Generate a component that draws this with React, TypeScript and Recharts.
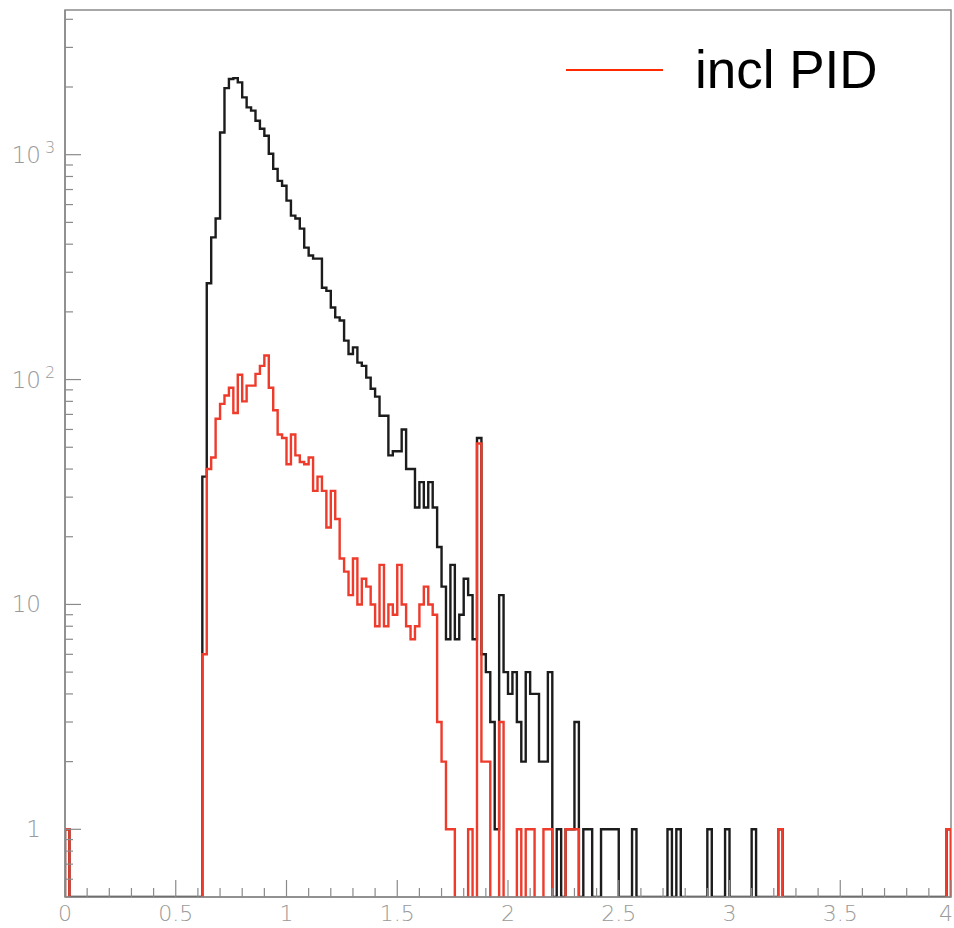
import React from 'react';
import { LineChart, Line, XAxis, YAxis, ReferenceArea, Legend } from 'recharts';

const BIN_WIDTH = 0.02;
const N_BINS = 200; // 0 .. 4
const FIRST_FILLED = 0.62; // lower edge of the first populated bin
const FLOOR = 0.5; // bottom of the log axis, empty bins sit here
const Y_TOP = 4400;

// all candidates, entries per bin starting at 0.62
const allCounts = [
  37, 268, 429, 520, 1256, 1978, 2170, 2190, 2096, 1798,
  1624, 1570, 1415, 1305, 1215, 1009, 865, 765, 728, 625,
  536, 520, 469, 386, 356, 345, 345, 256, 248, 209,
  189, 183, 149, 130, 139, 119, 115, 102, 91, 84,
  69, 69, 46, 48, 48, 60, 40, 40, 27, 35,
  27, 35, 27, 18, 12, 7, 15, 7, 9, 13,
  11, 7, 55, 6, 5, 3, 1, 11, 5, 4,
  5, 3, 2, 5, 4, 4, 2, 2, 5, 0,
  1, 0, 1, 1, 3, 0, 1, 1, 0, 0,
  1, 1, 1, 1, 0, 0, 0, 1, 0, 0,
  0, 0, 0, 0, 0, 1, 0, 1, 0, 0,
  0, 0, 0, 0, 1, 0, 0, 0, 1, 0,
  0, 0, 0, 0, 1,
];

// incl PID, entries per bin starting at 0.62
const pidCounts = [
  6, 40, 45, 67, 78, 85, 92, 71, 105, 80,
  94, 94, 106, 115, 128, 92, 73, 57, 55, 42,
  57, 46, 43, 42, 45, 32, 37, 32, 22, 32,
  24, 16, 14, 11, 16, 10, 13, 12, 10, 8,
  15, 8, 10, 9, 15, 10, 8, 7, 8, 10,
  12, 10, 9, 3, 2, 1, 1, 0, 0, 0,
  1, 0, 52, 2, 2, 0, 0, 3, 0, 0,
  0, 1, 0, 1, 1, 0, 0, 1, 1, 0,
  0, 0, 1, 1, 1,
];

// lone PID entries away from the bulk (bin lower edges), one each
const pidSingles = [0, 3.22, 3.98];

const xMajorTicks = [0, 0.5, 1, 1.5, 2, 2.5, 3, 3.5, 4];
const xTickLabels = ['0', '0.5', '1', '1.5', '2', '2.5', '3', '3.5', '4'];
const yMajorTicks = [1, 10, 100, 1000];
const yTickLabels = [['1', ''], ['10', ''], ['10', '2'], ['10', '3']];
const yMinorTicks = [
  0.6, 0.7, 0.8, 0.9,
  2, 3, 4, 5, 6, 7, 8, 9,
  20, 30, 40, 50, 60, 70, 80, 90,
  200, 300, 400, 500, 600, 700, 800, 900,
  2000, 3000, 4000,
];

const AXIS_GREY = '#8a8a8a';
const LABEL_GREY = '#9a9a9a';
const TICK_FONT = '"DejaVu Sans", sans-serif';

const binOf = (x: number) => Math.round(x / BIN_WIDTH);
const edge = (i: number) => Number((i * BIN_WIDTH).toFixed(2));

function fillBins(counts: number[], singles: number[]) {
  const bins = new Array(N_BINS).fill(0);
  const start = binOf(FIRST_FILLED);
  counts.forEach((c, k) => {
    bins[start + k] = c;
  });
  singles.forEach((x) => {
    bins[binOf(x)] += 1;
  });
  return bins;
}

// outline that also runs along the floor where bins are empty
function fullOutline(bins: number[]) {
  const pts: { x: number; y: number | null }[] = [{ x: 0, y: FLOOR }];
  bins.forEach((c, i) => {
    const v = c > 0 ? c : FLOOR;
    pts.push({ x: edge(i), y: v }, { x: edge(i + 1), y: v });
  });
  pts.push({ x: 4, y: FLOOR });
  return pts;
}

// outline only over populated runs (nothing drawn on the floor)
function runsOutline(bins: number[]) {
  const pts: { x: number; y: number | null }[] = [];
  let open = false;
  bins.forEach((c, i) => {
    if (c > 0) {
      if (!open) {
        pts.push({ x: edge(i), y: FLOOR });
        open = true;
      }
      pts.push({ x: edge(i), y: c }, { x: edge(i + 1), y: c });
    } else if (open) {
      pts.push({ x: edge(i), y: FLOOR }, { x: edge(i), y: null });
      open = false;
    }
  });
  if (open) pts.push({ x: 4, y: FLOOR });
  return pts;
}

const allData = fullOutline(fillBins(allCounts, pidSingles));
const pidData = runsOutline(fillBins(pidCounts, pidSingles));

const xTicks = Array.from({ length: 41 }, (_, i) => i / 10);
const yTicks = [...yMinorTicks, ...yMajorTicks].sort((a, b) => a - b);

function XTick(props: any) {
  const { x, y, payload } = props;
  const idx = xMajorTicks.findIndex((m) => Math.abs(m - payload.value) < 1e-6);
  const major = idx >= 0;
  const last = idx === xMajorTicks.length - 1;
  return (
    <g>
      <line x1={x} y1={y} x2={x} y2={y - (major ? 17 : 9)} stroke={AXIS_GREY} strokeWidth={1.2} />
      {major && (
        <text
          x={last ? x + 2 : x}
          y={y + 24}
          textAnchor={last ? 'end' : 'middle'}
          fill={LABEL_GREY}
          fontSize={22}
          fontFamily={TICK_FONT}
          fontWeight={200}
        >
          {xTickLabels[idx]}
        </text>
      )}
    </g>
  );
}

function YTick(props: any) {
  const { x, y, payload } = props;
  const idx = yMajorTicks.indexOf(payload.value);
  const major = idx >= 0;
  return (
    <g>
      <line x1={x} y1={y} x2={x + (major ? 16 : 8)} y2={y} stroke={AXIS_GREY} strokeWidth={1.2} />
      {major && (
        <text x={41} y={y + 8} textAnchor="end" fill={LABEL_GREY} fontSize={23} fontFamily={TICK_FONT} fontWeight={200}>
          {yTickLabels[idx][0]}
        </text>
      )}
      {major && yTickLabels[idx][1] && (
        <text x={45} y={y - 2} fill={LABEL_GREY} fontSize={16} fontFamily={TICK_FONT} fontWeight={200}>
          {yTickLabels[idx][1]}
        </text>
      )}
    </g>
  );
}

const renderLegend = () => (
  <div style={{ display: 'flex', alignItems: 'center', fontFamily: '"Liberation Sans", Arial, sans-serif' }}>
    <span style={{ display: 'inline-block', width: 97, height: 2, background: '#ff2a00' }} />
    <span style={{ marginLeft: 32, fontSize: 53, lineHeight: '53px', color: '#000', whiteSpace: 'nowrap' }}>incl PID</span>
  </div>
);

export default function App() {
  return (
    <div style={{ position: 'absolute', left: 0, top: 0, width: 954, height: 928, background: '#fff' }}>
      <LineChart width={954} height={928} margin={{ top: 10, right: 3, bottom: 0, left: 0 }}>
        <XAxis
          dataKey="x"
          type="number"
          domain={[0, 4]}
          allowDataOverflow
          ticks={xTicks}
          interval={0}
          tick={<XTick />}
          tickLine={false}
          tickSize={0}
          tickMargin={0}
          height={31}
          axisLine={{ stroke: AXIS_GREY, strokeWidth: 1.5 }}
        />
        <YAxis
          type="number"
          scale="log"
          domain={[FLOOR, Y_TOP]}
          allowDataOverflow
          ticks={yTicks}
          interval={0}
          tick={<YTick />}
          tickLine={false}
          tickSize={0}
          tickMargin={0}
          width={65}
          axisLine={{ stroke: AXIS_GREY, strokeWidth: 1.5 }}
        />
        <ReferenceArea x1={0} x2={4} y1={FLOOR} y2={Y_TOP} fill="none" stroke={AXIS_GREY} strokeWidth={1.5} />
        <Line
          data={allData}
          dataKey="y"
          type="linear"
          stroke="#1c1c1c"
          strokeWidth={2.4}
          dot={false}
          activeDot={false}
          isAnimationActive={false}
        />
        <Line
          data={pidData}
          dataKey="y"
          type="linear"
          stroke="#ee3b2b"
          strokeWidth={2.4}
          dot={false}
          activeDot={false}
          connectNulls={false}
          isAnimationActive={false}
        />
        <Legend
          content={renderLegend}
          layout="horizontal"
          verticalAlign="middle"
          align="center"
          wrapperStyle={{ left: 566, top: 43, width: 'auto' }}
        />
      </LineChart>
    </div>
  );
}
